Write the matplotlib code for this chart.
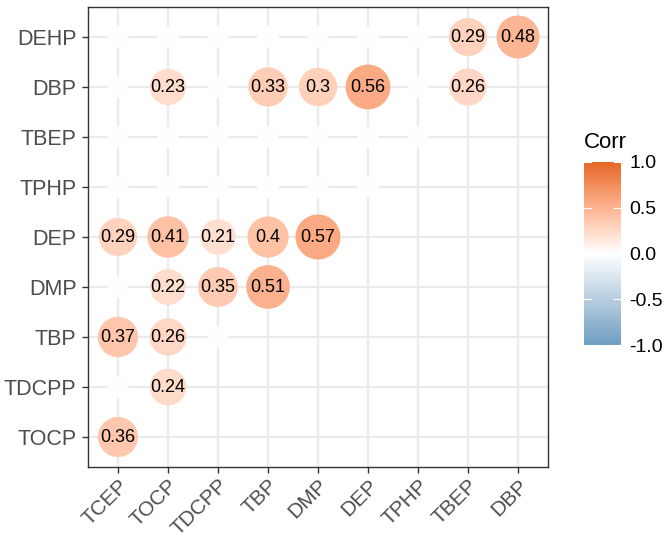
import numpy as np
import matplotlib
matplotlib.use("Agg")
import matplotlib.pyplot as plt
from matplotlib.colors import ListedColormap, Normalize

plt.rcParams['font.family'] = ['Liberation Sans', 'DejaVu Sans']

# variables on each axis (y from bottom to top)
x_vars = ["TCEP", "TOCP", "TDCPP", "TBP", "DMP", "DEP", "TPHP", "TBEP", "DBP"]
y_vars = ["TOCP", "TDCPP", "TBP", "DMP", "DEP", "TPHP", "TBEP", "DBP", "DEHP"]

# lower triangle of the correlation matrix, insignificant ones set to 0
corr_rows = [
    [0.36],
    [0, 0.24],
    [0.37, 0.26, 0],
    [0, 0.22, 0.35, 0.51],
    [0.29, 0.41, 0.21, 0.40, 0.57],
    [0, 0, 0, 0, 0, 0],
    [0, 0, 0, 0, 0, 0, 0],
    [0, 0.23, 0, 0.33, 0.30, 0.56, 0, 0.26],
    [0, 0, 0, 0, 0, 0, 0, 0.29, 0.48],
]

low_col, mid_col, high_col = "#6D9EC1", "#FFFFFF", "#E46726"


# Lab interpolation, like scale_fill_gradient2
def hex2rgb(h):
    h = h.lstrip("#")
    return np.array([int(h[i:i + 2], 16) / 255 for i in (0, 2, 4)])


M = np.array([[0.4124, 0.3576, 0.1805],
              [0.2126, 0.7152, 0.0722],
              [0.0193, 0.1192, 0.9505]])
WHITE = np.array([0.95047, 1.0, 1.08883])


def rgb2lab(c):
    lin = np.where(c <= 0.04045, c / 12.92, ((c + 0.055) / 1.055) ** 2.4)
    xyz = M @ lin / WHITE
    f = np.where(xyz > 0.008856, np.cbrt(xyz), 7.787 * xyz + 16 / 116)
    return np.array([116 * f[1] - 16, 500 * (f[0] - f[1]), 200 * (f[1] - f[2])])


def lab2rgb(lab):
    fy = (lab[0] + 16) / 116
    fx = fy + lab[1] / 500
    fz = fy - lab[2] / 200
    f = np.array([fx, fy, fz])
    xyz = np.where(f ** 3 > 0.008856, f ** 3, (f - 16 / 116) / 7.787) * WHITE
    lin = np.linalg.solve(M, xyz)
    c = np.where(lin <= 0.0031308, 12.92 * lin, 1.055 * np.clip(lin, 0, None) ** (1 / 2.4) - 0.055)
    return np.clip(c, 0, 1)


lab_low, lab_mid, lab_high = rgb2lab(hex2rgb(low_col)), rgb2lab(hex2rgb(mid_col)), rgb2lab(hex2rgb(high_col))
cols = []
for t in np.linspace(-1, 1, 256):
    if t < 0:
        lab = lab_mid + (lab_low - lab_mid) * (-t)
    else:
        lab = lab_mid + (lab_high - lab_mid) * t
    cols.append(lab2rgb(lab))
cmap = ListedColormap(cols)
norm = Normalize(-1, 1)

# long format
xs, ys, vals = [], [], []
for j, row in enumerate(corr_rows):
    for i, v in enumerate(row):
        xs.append(i)
        ys.append(j)
        vals.append(v)
xs = np.array(xs)
ys = np.array(ys)
vals = np.array(vals)

# size scale: area-like, range 4..10
vmax = np.abs(vals).max()
size_units = 4 + 6 * np.sqrt(np.abs(vals) / vmax)
diam_px = 5 + 4 * size_units
dpi = 100
sizes = (diam_px * 72 / dpi) ** 2

fig = plt.figure(figsize=(6.69, 5.41), dpi=dpi)
ax = fig.add_axes([88 / 669, 1 - 467 / 541, 460 / 669, 460 / 541])

ax.scatter(xs, ys, s=sizes, c=vals, cmap=cmap, norm=norm, linewidths=0, zorder=3)
for x, y, v in zip(xs, ys, vals):
    if v != 0:
        ax.text(x, y, f"{round(v, 2):g}", ha="center", va="center", fontsize=13,
                color="black", zorder=4)

ax.set_xlim(-0.6, len(x_vars) - 0.4)
ax.set_ylim(-0.6, len(y_vars) - 0.4)
ax.set_xticks(range(len(x_vars)))
ax.set_xticklabels(x_vars, rotation=45, ha="right", rotation_mode="anchor")
ax.set_yticks(range(len(y_vars)))
ax.set_yticklabels(y_vars)
ax.tick_params(colors="#333333", labelcolor="#4D4D4D", labelsize=15.5,
               length=4.3, width=1.0, pad=4)
ax.tick_params(axis="x", labelsize=15, pad=2)
ax.grid(True, color="#EBEBEB", linewidth=1.6)
ax.set_axisbelow(True)
for sp in ax.spines.values():
    sp.set_color("#333333")
    sp.set_linewidth(1.0)

# colour bar legend
cax = fig.add_axes([584 / 669, 1 - 345 / 541, 37 / 669, 183 / 541])
cb = fig.colorbar(plt.cm.ScalarMappable(norm=norm, cmap=cmap), cax=cax)
cb.outline.set_visible(False)
ticks = [-1.0, -0.5, 0.0, 0.5, 1.0]
cb.set_ticks(ticks)
cb.set_ticklabels([f"{t:.1f}" for t in ticks])
cax.tick_params(length=0, labelsize=14, labelcolor="black", pad=6)
tr = cax.get_yaxis_transform()
for t in ticks:
    cax.plot([0, 0.2], [t, t], color="white", linewidth=0.8, transform=tr)
    cax.plot([0.8, 1], [t, t], color="white", linewidth=0.8, transform=tr)
fig.text(584 / 669, 1 - 148 / 541, "Corr", fontsize=16, ha="left", va="baseline")

fig.savefig("out.png", dpi=dpi)
